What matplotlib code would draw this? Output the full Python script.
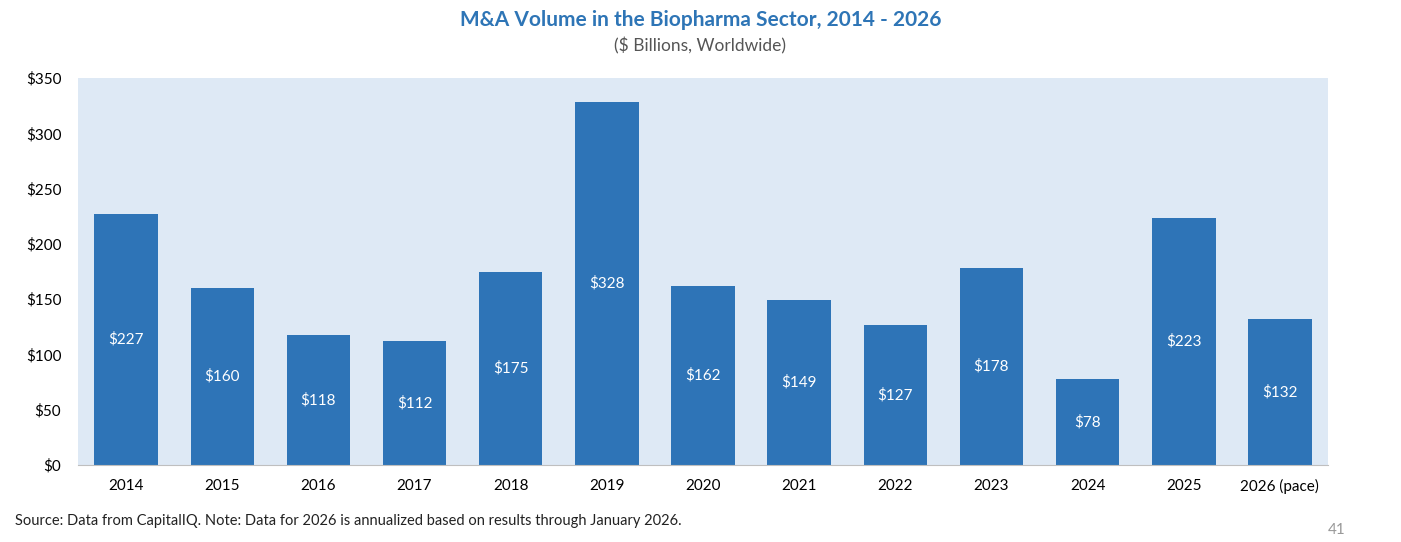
import matplotlib
matplotlib.use("Agg")
import matplotlib.pyplot as plt

years = ["2014","2015","2016","2017","2018","2019","2020","2021","2022","2023","2024","2025","2026 (pace)"]
values = [227,160,118,112,175,328,162,149,127,178,78,223,132]
yticks = [0,50,100,150,200,250,300,350]

plt.rcParams['font.family'] = ['Lato', 'DejaVu Sans']
fig = plt.figure(figsize=(14.01,5.42), dpi=100)
ax = fig.add_axes([78/1401, 1-465/542, 1250/1401, 387/542])
ax.set_facecolor('#DEE9F5')
x = range(len(years))
bars = ax.bar(x, values, width=0.66, color='#2E74B7')
for xi, v in zip(x, values):
    ax.text(xi, v/2, f"${v}", ha='center', va='center', color='white', fontsize=11)
ax.set_xlim(-0.5, len(years)-0.5)
ax.set_ylim(0, 350)
ax.set_yticks(yticks)
ax.set_yticklabels([f"${t}" for t in yticks], fontsize=11)
ax.set_xticks(list(x))
ax.set_xticklabels(years, fontsize=11)
ax.tick_params(length=0, pad=10)
ax.tick_params(axis='y', pad=12)
for s in ['top','right','left']:
    ax.spines[s].set_visible(False)
ax.spines['bottom'].set_color('#BFBFBF')
fig.text(0.5, 1-20/542, "M&A Volume in the Biopharma Sector, 2014 - 2026", ha='center', va='center',
         color='#2E75B6', fontsize=15, fontweight='bold')
fig.text(0.5, 1-46/542, "($ Billions, Worldwide)", ha='center', va='center', color='#555555', fontsize=12.5)
fig.text(15/1401, 1-521/542, "Source: Data from CapitalIQ. Note: Data for 2026 is annualized based on results through January 2026.",
         ha='left', va='center', fontsize=10.5, color='#222222')
fig.text(1337/1401, 1-530/542, "41", ha='center', va='center', fontsize=11, color='#999999')
fig.savefig("out.png", dpi=100)
